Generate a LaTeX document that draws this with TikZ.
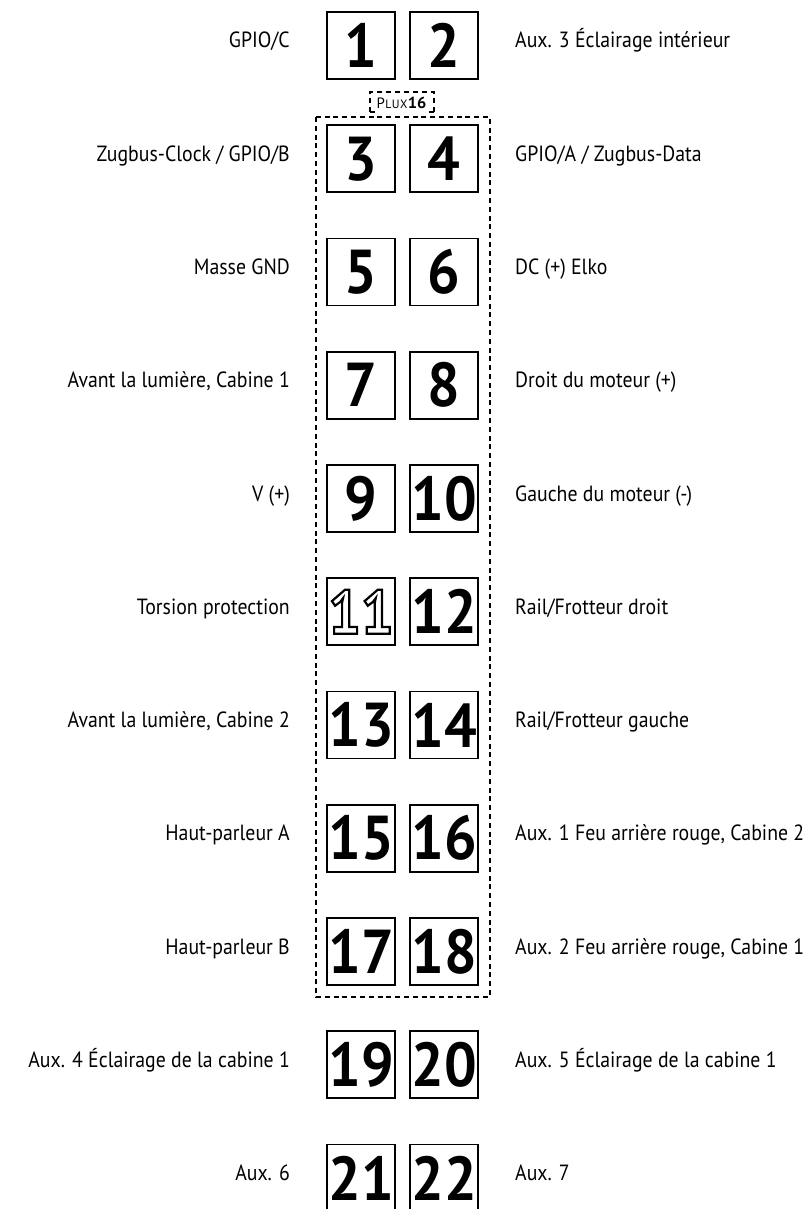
\documentclass[tikz,border=0pt]{standalone}
\usepackage{fontspec}
\setmainfont{PT Sans}[FakeStretch=0.9]
\newfontfamily\numfont{PT Sans}[FakeStretch=0.93]
\begin{document}
\begin{tikzpicture}[x=1pt,y=-1pt,
  pinbox/.style={draw, line width=1.6pt, minimum width=68pt, minimum height=67pt, inner sep=0pt,
    font=\numfont\bfseries\fontsize{62}{62}\selectfont},
  llab/.style={anchor=mid east, inner sep=0pt, font=\fontsize{22}{26}\selectfont},
  rlab/.style={anchor=mid west, inner sep=0pt, font=\fontsize{22}{26}\selectfont},
  dashline/.style={line width=1.8pt, dash pattern=on 5pt off 3.8pt}]
\useasboundingbox (0,0) rectangle (807,1209);
\def\xl{361}\def\xr{444}\def\xtl{290}\def\xtr{515}
% rows
\foreach \i/\a/\b/\la/\lb in {
 0/1/2/{GPIO/C}/{Aux. 3 Éclairage intérieur},
 1/3/4/{Zugbus-Clock / GPIO/B}/{GPIO/A / Zugbus-Data},
 2/5/6/{Masse GND}/{DC (+) Elko},
 3/7/8/{Avant la lumière, Cabine 1}/{Droit du moteur (+)},
 4/9/10/{V (+)}/{Gauche du moteur (-)},
 6/13/14/{Avant la lumière, Cabine 2}/{Rail/Frotteur gauche},
 7/15/16/{Haut-parleur A}/{Aux. 1 Feu arrière rouge, Cabine 2},
 8/17/18/{Haut-parleur B}/{Aux. 2 Feu arrière rouge, Cabine 1},
 9/19/20/{Aux. 4 Éclairage de la cabine 1}/{Aux. 5 Éclairage de la cabine 1},
 10/21/22/{Aux. 6}/{Aux. 7}}{
  \pgfmathsetmacro{\yy}{45.5+113.25*\i}
  \node[pinbox] (p\a) at (\xl,\yy) {\a};
  \node[pinbox] (p\b) at (\xr,\yy) {\b};
  \node[llab] (l\a) at (\xtl,\yy) {\la};
  \node[rlab] (l\b) at (\xtr,\yy) {\lb};
}
% row with outlined 11
\pgfmathsetmacro{\yy}{45.5+113.25*5}
\node[pinbox] (p11) at (\xl,\yy) {\special{pdf:literal direct 1 Tr 2.2 w}11\special{pdf:literal direct 0 Tr}};
\node[pinbox] (p12) at (\xr,\yy) {12};
\node[llab] (l11) at (\xtl,\yy) {Torsion protection};
\node[rlab] (l12) at (\xtr,\yy) {Rail/Frotteur droit};
% Plux16 frame
\draw[dashline] (316,117) rectangle (490,997);
\node[anchor=base, inner sep=0pt, xscale=1.1, transform shape] (plux) at (401.5,108.5)
  {\fontsize{15}{15}\selectfont P\kern0.3pt{\fontsize{12}{12}\selectfont L\kern0.4pt U\kern0.4pt X}\kern0.3pt{\numfont\bfseries\fontsize{16}{16}\selectfont 16}};
\draw[line width=1.4pt, dash pattern=on 5pt off 4pt] (370,112) -- (370,92) -- (434,92) -- (434,112);
\draw[line width=1.4pt] (370,112) -- (375,112) (429,112) -- (434,112);
\end{tikzpicture}
\end{document}
